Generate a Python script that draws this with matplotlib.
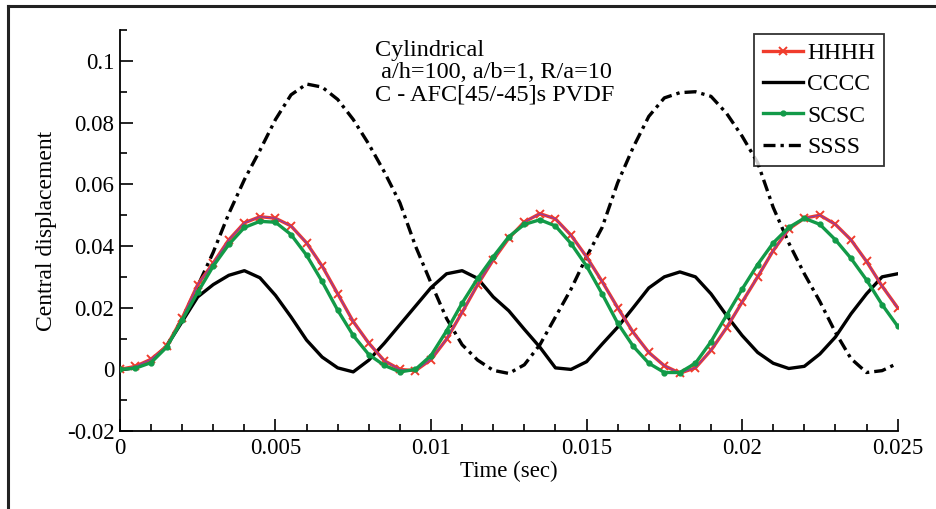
import numpy as np
import matplotlib
matplotlib.use("Agg")
import matplotlib.pyplot as plt
from matplotlib.ticker import MultipleLocator, FuncFormatter
from matplotlib.lines import Line2D

time = [i * 0.0005 for i in range(51)]

hhhh = [0.0, 0.001, 0.0033, 0.0075, 0.0166, 0.0275, 0.0345, 0.042, 0.0475, 0.0495,
        0.049, 0.0465, 0.041, 0.0335, 0.0245, 0.0155, 0.0085, 0.0028, 0.0, -0.0004,
        0.0032, 0.0098, 0.0185, 0.0275, 0.0355, 0.0425, 0.0478, 0.0505, 0.0488, 0.0435,
        0.0365, 0.0285, 0.020, 0.012, 0.0055, 0.0012, -0.0012, 0.0005, 0.0062, 0.0135,
        0.0218, 0.030, 0.0385, 0.0455, 0.049, 0.050, 0.047, 0.042, 0.035, 0.027,
        0.020]

cccc = [0.0, 0.0005, 0.0028, 0.0075, 0.0155, 0.0235, 0.0275, 0.0305, 0.032, 0.0297,
        0.024, 0.017, 0.0095, 0.004, 0.0005, -0.0008, 0.003, 0.0085, 0.0145, 0.0205,
        0.0265, 0.031, 0.032, 0.0295, 0.0235, 0.019, 0.013, 0.0072, 0.0005, 0.0,
        0.0025, 0.0082, 0.0137, 0.020, 0.0264, 0.030, 0.0316, 0.030, 0.0245, 0.0175,
        0.011, 0.0055, 0.002, 0.0003, 0.001, 0.005, 0.0105, 0.018, 0.0245, 0.030,
        0.031]

scsc = [0.0, 0.0004, 0.0022, 0.0072, 0.016, 0.025, 0.0335, 0.0405, 0.046, 0.048,
        0.0477, 0.0437, 0.037, 0.0285, 0.0192, 0.011, 0.0048, 0.0013, -0.0008, 0.0,
        0.0045, 0.0125, 0.0215, 0.0295, 0.0365, 0.043, 0.047, 0.0485, 0.0465, 0.0408,
        0.0335, 0.0245, 0.015, 0.0075, 0.002, -0.001, -0.001, 0.002, 0.009, 0.0175,
        0.026, 0.034, 0.041, 0.046, 0.049, 0.047, 0.042, 0.036, 0.029, 0.021,
        0.014]

ssss = [0.0, 0.0005, 0.0028, 0.0075, 0.0165, 0.027, 0.038, 0.0505, 0.0615, 0.071,
        0.081, 0.089, 0.0925, 0.0915, 0.0875, 0.081, 0.073, 0.064, 0.054, 0.040,
        0.028, 0.0165, 0.008, 0.003, -0.0003, -0.0013, 0.0015, 0.008, 0.017, 0.026,
        0.0365, 0.046, 0.0605, 0.072, 0.082, 0.088, 0.0897, 0.090, 0.0885, 0.083,
        0.0756, 0.067, 0.0525, 0.041, 0.031, 0.022, 0.012, 0.0035, -0.001, -0.0004,
        0.002]

labels = ["HHHH", "CCCC", "SCSC", "SSSS"]
annot = "Cylindrical\n a/h=100, a/b=1, R/a=10\nC - AFC[45/-45]s PVDF"

plt.rcParams['font.family'] = ['Liberation Serif', 'DejaVu Serif']

fig = plt.figure(figsize=(9.37, 5.09), dpi=100)
ax = fig.add_axes([0.128, 0.153, 0.830, 0.788])

red = '#f03c2c'
green = '#129a48'
lw = 2.4

ax.plot(time, ssss, color='black', lw=lw, dashes=(3.6, 1.5, 1.0, 1.5), zorder=2)
ax.plot(time, cccc, color='black', lw=lw, zorder=3)
ax.plot(time, hhhh, color=red, lw=lw, marker='x', ms=5.5, mew=1.4, zorder=4)
ax.plot(time, hhhh, color='#8a3aa8', lw=0.8, zorder=4.5)
ax.plot(time, scsc, color=green, lw=lw, marker='o', ms=3.5, zorder=5)

ax.set_xlim(0, 0.025)
ax.set_ylim(-0.02, 0.11)
ax.xaxis.set_major_locator(MultipleLocator(0.005))
ax.xaxis.set_minor_locator(MultipleLocator(0.001))
ax.yaxis.set_major_locator(MultipleLocator(0.02))
ax.yaxis.set_minor_locator(MultipleLocator(0.01))

def fmt(v, pos):
    s = ('%.3f' % v).rstrip('0').rstrip('.')
    if s in ('-0', ''):
        s = '0'
    return s

ax.xaxis.set_major_formatter(FuncFormatter(fmt))
ax.yaxis.set_major_formatter(FuncFormatter(fmt))

ax.spines['top'].set_visible(False)
ax.spines['right'].set_visible(False)
for s in ('left', 'bottom'):
    ax.spines[s].set_linewidth(1.3)
ax.tick_params(which='both', direction='in', top=False, right=False, width=1.2,
               labelsize=16.5, colors='black')
ax.tick_params(which='major', length=9)
ax.tick_params(which='minor', length=5)
ax.tick_params(axis='x', pad=5)
ax.tick_params(axis='y', pad=4)

ax.set_xlabel("Time (sec)", fontsize=16.5, labelpad=1)
ax.set_ylabel("Central displacement", fontsize=17, labelpad=7)

ax.text(0.328, 0.975, annot, transform=ax.transAxes, ha='left', va='top',
        fontsize=17.5, linespacing=1.08)

handles = [
    Line2D([], [], color=red, lw=lw, marker='x', ms=5.5, mew=1.4, markevery=[1]),
    Line2D([], [], color='black', lw=lw),
    Line2D([], [], color=green, lw=lw, marker='o', ms=3.5, markevery=[1]),
    Line2D([], [], color='black', lw=lw, dashes=(3.6, 1.5, 1.0, 1.5)),
]
leg = ax.legend(handles, labels, loc='upper right', bbox_to_anchor=(0.982, 0.99),
                fontsize=17, frameon=True, fancybox=False, edgecolor='black',
                handlelength=1.7, handletextpad=0.2, borderpad=0.35,
                labelspacing=0.42, borderaxespad=0.0)
leg.get_frame().set_linewidth(1.3)

# figure frame lines (top and left)
fig.add_artist(Line2D([8 / 937, 1.0], [1 - 6 / 509, 1 - 6 / 509], color='#222222',
                      lw=2.2, transform=fig.transFigure))
fig.add_artist(Line2D([8 / 937, 8 / 937], [0.0, 1 - 6 / 509], color='#222222',
                      lw=2.2, transform=fig.transFigure))

fig.savefig("out.png", dpi=100)
